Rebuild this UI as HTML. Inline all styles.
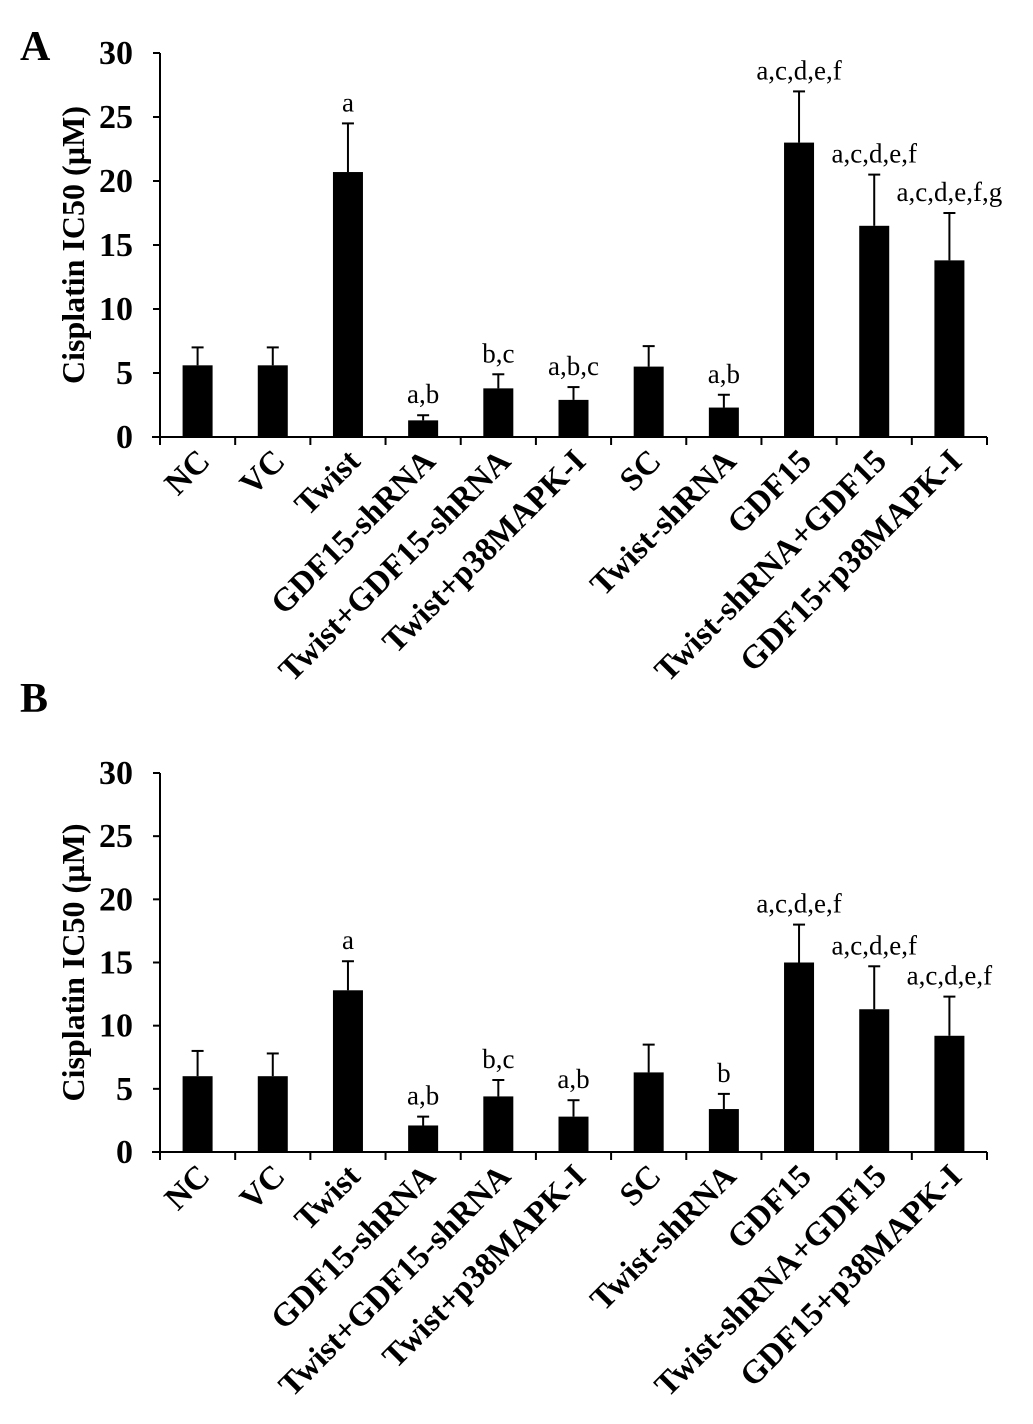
<!DOCTYPE html>
<html><head><meta charset="utf-8"><style>
body{margin:0;background:#fff}
svg text{font-family:"Liberation Serif",serif}
</style></head><body>
<svg id="chart" width="1033" height="1419" xmlns="http://www.w3.org/2000/svg"></svg>
<script>
const categories=["NC","VC","Twist","GDF15-shRNA","Twist+GDF15-shRNA","Twist+p38MAPK-I","SC","Twist-shRNA","GDF15","Twist-shRNA+GDF15","GDF15+p38MAPK-I"];
const valuesA=[5.6,5.6,20.7,1.3,3.8,2.9,5.5,2.3,23.0,16.5,13.8];
const errTopA=[7.0,7.0,24.5,1.7,4.9,3.9,7.1,3.3,27.0,20.5,17.5];
const annotA=["","","a","a,b","b,c","a,b,c","","a,b","a,c,d,e,f","a,c,d,e,f","a,c,d,e,f,g"];
const valuesB=[6.0,6.0,12.8,2.1,4.4,2.8,6.3,3.4,15.0,11.3,9.2];
const errTopB=[8.0,7.8,15.1,2.8,5.7,4.1,8.5,4.6,18.0,14.7,12.3];
const annotB=["","","a","a,b","b,c","a,b","","b","a,c,d,e,f","a,c,d,e,f","a,c,d,e,f"];
const yTicks=[0,5,10,15,20,25,30];

const svg=document.getElementById('chart');
const NS='http://www.w3.org/2000/svg';
function mk(tag,attrs,parent){const e=document.createElementNS(NS,tag);for(const k in attrs)e.setAttribute(k,attrs[k]);(parent||svg).appendChild(e);return e;}

function panel(id,letter,letterY,yTop,yZero,vals,errs,ann){
  const g=mk('g',{});
  
  
  const x0=160,x1=987,n=categories.length,bw=(x1-x0)/n;
  const y=v=>yZero-(yZero-yTop)*v/30;
  const xc=i=>x0+bw*(i+0.5);
  const L=mk('text',{x:20,y:letterY,'font-size':42,'font-weight':'bold'},g);L.textContent=letter;
  
  
  const ax=mk('line',{x1:x0,y1:yTop,x2:x0,y2:yZero,stroke:'#000','stroke-width':2},g);
  
  
  const xa=mk('line',{x1:x0-8,y1:yZero,x2:x1,y2:yZero,stroke:'#000','stroke-width':2},g);
  
  
  yTicks.forEach(t=>{
    mk('line',{x1:x0-7,y1:y(t),x2:x0,y2:y(t),stroke:'#000','stroke-width':2},g);
    const tl=mk('text',{x:x0-27,y:y(t)+11,'font-size':34,'font-weight':'bold','text-anchor':'end'},g);
    tl.textContent=t;
    
    
  });
  for(let i=0;i<=n;i++)mk('line',{x1:x0+bw*i,y1:yZero,x2:x0+bw*i,y2:yZero+8,stroke:'#000','stroke-width':2},g);
  const cy=(yTop+yZero)/2;
  const yt=mk('text',{x:0,y:0,'font-size':32,'font-weight':'bold','text-anchor':'middle',transform:`translate(84,${cy}) rotate(-90)`},g);
  yt.textContent='Cisplatin IC50 (µM)';
  
  
  vals.forEach((v,i)=>{
    const cx=xc(i);
    mk('line',{x1:cx,y1:y(errs[i]),x2:cx,y2:y(v),stroke:'#000','stroke-width':2},g);
    mk('line',{x1:cx-6,y1:y(errs[i]),x2:cx+6,y2:y(errs[i]),stroke:'#000','stroke-width':2},g);
    const r=mk('rect',{x:cx-15,y:y(v),width:30,height:yZero-y(v),fill:'#000'},g);
    
    
    if(ann[i]){
      const a=mk('text',{x:cx,y:y(errs[i])-12,'font-size':27,'text-anchor':'middle'},g);
      a.textContent=ann[i];
      
      
    }
    const lx=cx+14,ly=yZero+26;
    const xl=mk('text',{x:0,y:0,'font-size':33,'font-weight':'bold','text-anchor':'end',transform:`translate(${lx},${ly}) rotate(-45)`},g);
    xl.textContent=categories[i];
    
    
  });
}
panel('a','A',60,53,437,valuesA,errTopA,annotA);
panel('b','B',712,773,1152,valuesB,errTopB,annotB);
</script>
</body></html>
